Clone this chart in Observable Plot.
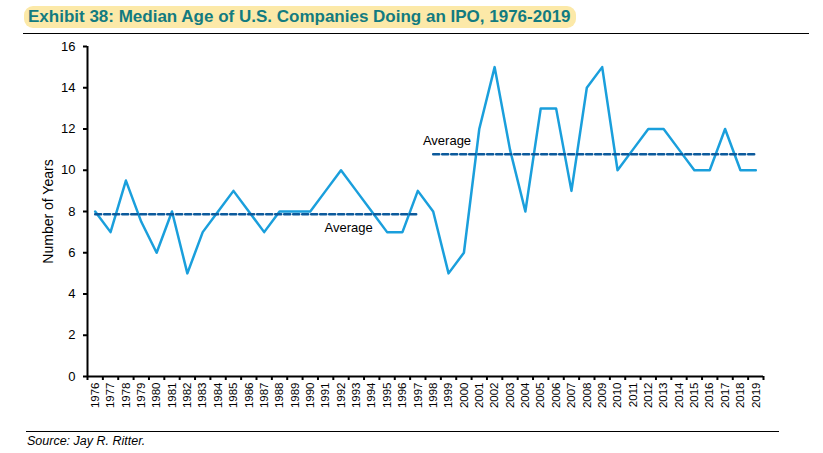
<!DOCTYPE html>
<html><head><meta charset="utf-8">
<script src="https://cdn.jsdelivr.net/npm/d3@7"></script>
<script src="https://cdn.jsdelivr.net/npm/@observablehq/plot@0.6"></script>
<style>
body{margin:0;background:#fff;font-family:"Liberation Sans",Arial,sans-serif;}
#wrap{position:relative;width:823px;height:453px;overflow:hidden;}
#title{position:absolute;left:24px;top:6px;background:#fce9a8;border-radius:9px;padding:1px 5px 1px 4px;font-weight:bold;font-size:17px;color:#127b80;white-space:nowrap;line-height:20px;}
#rule1{position:absolute;left:23px;top:33px;width:786px;border-top:1.5px solid #000;}
#chart{position:absolute;left:0;top:36px;}
#rule2{position:absolute;left:26px;top:431px;width:753px;border-top:1.5px solid #000;}
#source{position:absolute;left:27px;top:434px;font-size:12.5px;font-style:italic;color:#000;}
</style>
</head><body>
<div id="wrap">
  <div id="title">Exhibit 38: Median Age of U.S. Companies Doing an IPO, 1976-2019</div>
  <div id="rule1"></div>
  <div id="chart"></div>
  <div id="rule2"></div>
  <div id="source">Source: Jay R. Ritter.</div>
</div>
<script>
const years = d3.range(1976, 2020);
const medianAge = [8, 7, 9.5, 7.5, 6, 8, 5, 7, 8, 9, 8, 7, 8, 8, 8, 9, 10, 9, 8, 7, 7, 9,
                   8, 5, 6, 12, 15, 11, 8, 13, 13, 9, 14, 15, 10, 11, 12, 12, 11, 10, 10, 12, 10, 10];
const yTicks = [0, 2, 4, 6, 8, 10, 12, 14, 16];
const periodStart = [1976, 1998];
const periodEnd = [1997, 2019];
const avgLabelX = [1992.5, 1998.9];

const data = years.map((y, i) => ({year: y, age: medianAge[i]}));
const averages = periodStart.map((s, i) => {
  const vals = data.filter(d => d.year >= s && d.year <= periodEnd[i]).map(d => d.age);
  return {start: s, end: periodEnd[i], avg: d3.mean(vals), lx: avgLabelX[i]};
});
const avgSegs = averages.flatMap((a, i) => [{x: a.start, y: a.avg, g: i}, {x: a.end, y: a.avg, g: i}]);
const bounds = d3.range(1975.5, 2020.5, 1);

const chart = Plot.plot({
  width: 823, height: 392,
  marginLeft: 87, marginRight: 60, marginTop: 10, marginBottom: 52,
  style: {fontFamily: "'Liberation Sans', Arial, sans-serif", color: "#000", background: "#fff"},
  x: {type: "linear", domain: [1975.5, 2019.5]},
  y: {domain: [0, 16]},
  marks: [
    Plot.axisY({ticks: yTicks, tickSize: 4, tickPadding: 8, fontSize: 13, strokeWidth: 2, label: null}),
    Plot.axisY({ticks: [], tickSize: 0, fontSize: 14,
      label: "Number of Years", labelAnchor: "center", labelOffset: 44, labelArrow: "none"}),
    Plot.axisX({ticks: bounds, tickSize: 4, tickFormat: () => "", strokeWidth: 2, label: null}),
    Plot.axisX({ticks: years, tickSize: 0, tickPadding: 6, tickRotate: -90, fontSize: 11.5,
      tickFormat: d => String(d), label: null}),
    Plot.ruleY([0], {strokeWidth: 2}),
    Plot.ruleX([1975.5], {y1: 0, y2: 16, strokeWidth: 2}),
    Plot.line(data, {x: "year", y: "age", stroke: "#1a9fdc", strokeWidth: 2.5}),
    Plot.line(avgSegs, {x: "x", y: "y", z: "g", stroke: "#0c5a9c", strokeWidth: 2.5, strokeDasharray: "6,3"}),
    Plot.text(averages.slice(0, 1), {x: "lx", y: "avg", dy: 14, text: () => "Average", fontSize: 13, fill: "#000"}),
    Plot.text(averages.slice(1), {x: "lx", y: "avg", dy: -13, text: () => "Average", fontSize: 13, fill: "#000"})
  ]
});
document.getElementById("chart").appendChild(chart);
</script>
</body></html>
